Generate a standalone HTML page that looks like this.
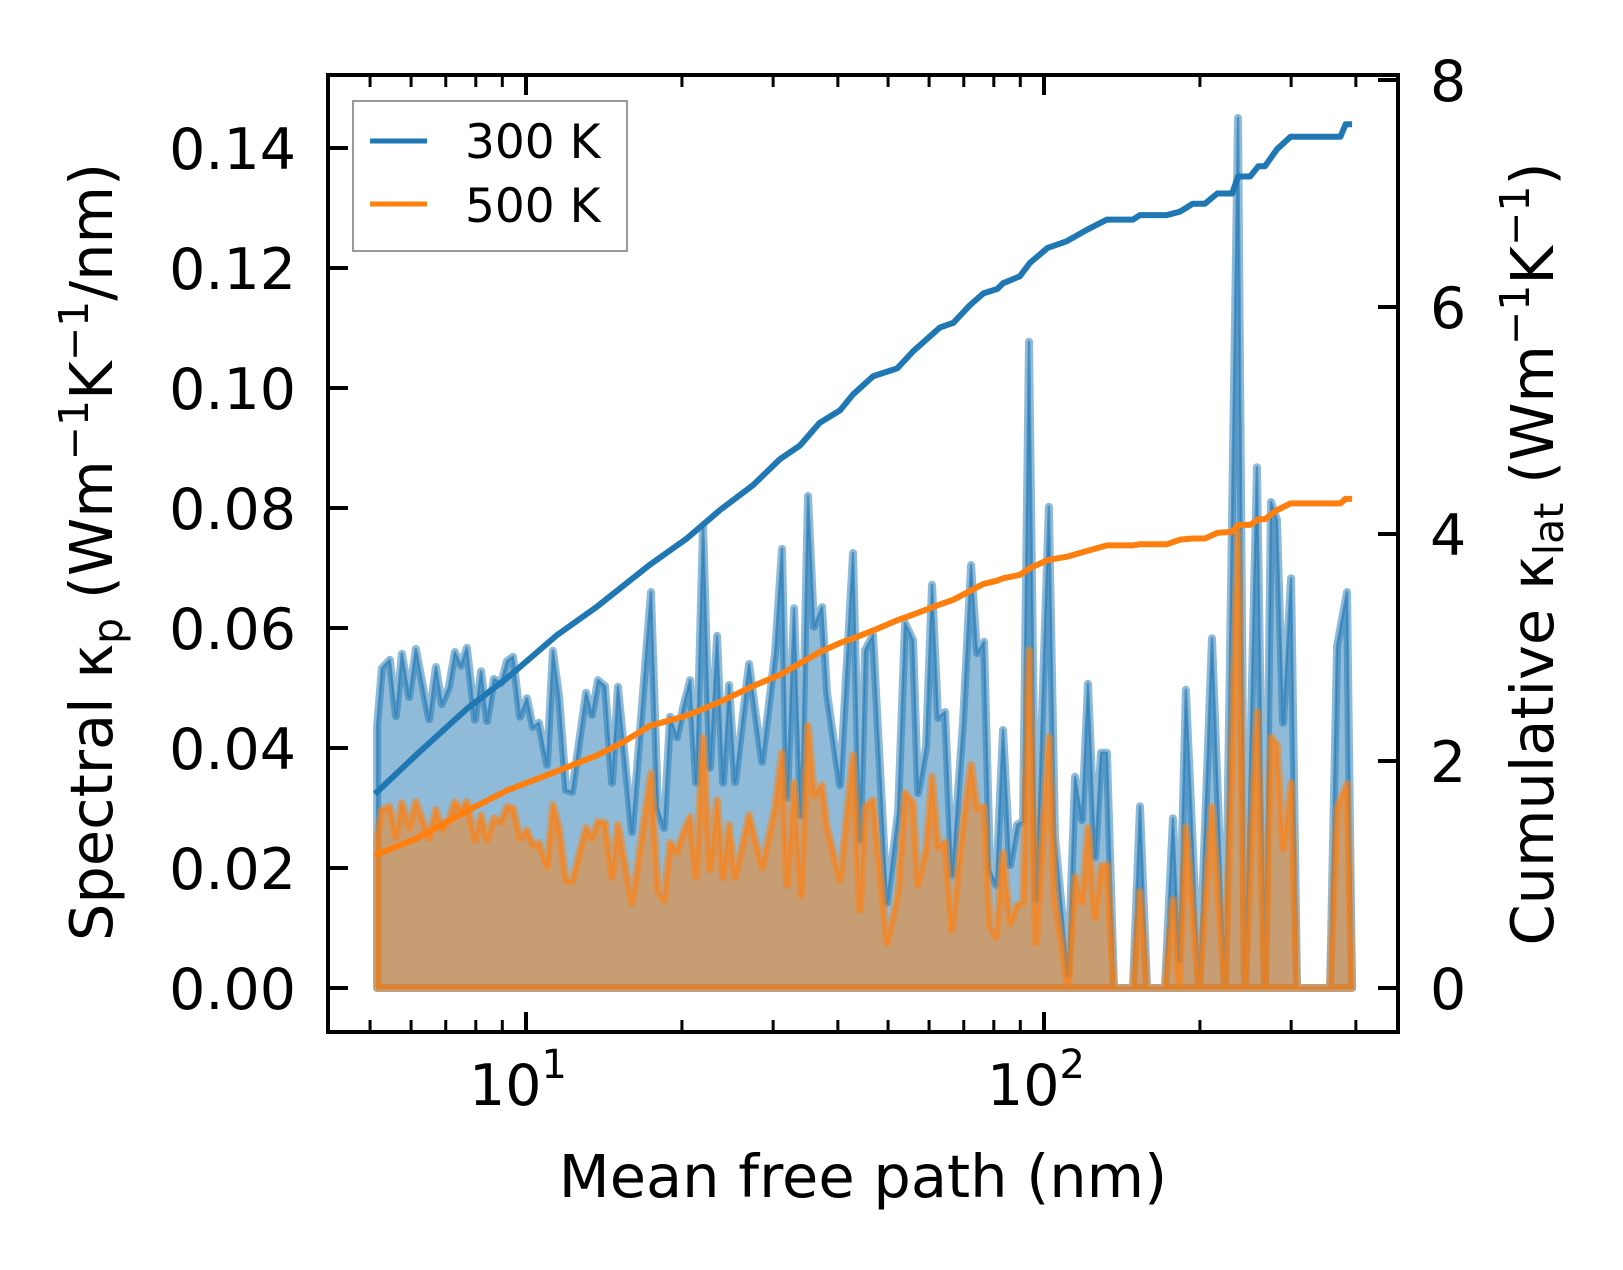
<!DOCTYPE html>
<html><head><meta charset="utf-8"><style>
html,body{margin:0;padding:0;background:#fff;}
svg{display:block;font-family:"DejaVu Sans","Liberation Sans",sans-serif;}
</style></head><body>
<svg id="chart" width="1623" height="1270" viewBox="0 0 1623 1270" xmlns="http://www.w3.org/2000/svg">
<defs><clipPath id="clip"><rect x="328" y="75" width="1070" height="957"/></clipPath></defs>
<rect x="0" y="0" width="1623" height="1270" fill="#fff"/>
<g id="plot" clip-path="url(#clip)"></g>
<g id="axes"></g>
<g id="legend">
  <rect x="353" y="101" width="274" height="150" fill="#fff" fill-opacity="0.8" stroke="#999" stroke-width="2"/>
  <line x1="370" y1="141" x2="427" y2="141" stroke="#1f77b4" stroke-width="5"/>
  <text x="465" y="158" font-size="47">300 K</text>
  <line x1="370" y1="204" x2="427" y2="204" stroke="#ff7f0e" stroke-width="5"/>
  <text x="465" y="222" font-size="47">500 K</text>
</g>
<text x="863" y="1197" font-size="59" text-anchor="middle">Mean free path (nm)</text>
<text transform="translate(112,552) rotate(-90)" font-size="59" text-anchor="middle">Spectral κ<tspan font-size="41" dy="10">p</tspan><tspan dy="-10"> (Wm</tspan><tspan font-size="41" dy="-24">−1</tspan><tspan dy="24">K</tspan><tspan font-size="41" dy="-24">−1</tspan><tspan dy="24">/nm)</tspan></text>
<text transform="translate(1553,554) rotate(-90)" font-size="59" text-anchor="middle">Cumulative κ<tspan font-size="41" dy="10">lat</tspan><tspan dy="-10"> (Wm</tspan><tspan font-size="41" dy="-24">−1</tspan><tspan dy="24">K</tspan><tspan font-size="41" dy="-24">−1</tspan><tspan dy="24">)</tspan></text>
</svg>
<script>
const mfp = [5.16,5.27,5.46,5.61,5.76,5.95,6.13,6.50,6.70,6.88,7.10,7.29,7.49,7.69,7.97,8.19,8.41,8.67,8.95,9.19,9.44,9.74,10.04,10.31,10.59,10.98,11.27,11.58,11.95,12.27,13.06,13.41,13.77,14.21,14.66,15.05,16.02,17.43,17.98,18.47,18.97,19.56,20.10,20.74,21.30,21.97,22.66,23.38,24.01,24.66,25.33,26.95,28.56,30.25,31.21,31.91,32.92,33.96,35.03,35.97,37.28,38.12,40.39,42.79,44.14,45.13,46.77,49.77,52.27,53.92,55.87,57.13,59.19,60.79,62.44,64.42,66.45,69.78,72.31,74.26,76.61,78.68,80.80,83.35,86.00,88.72,91.10,93.55,96.5,102.2,105.0,111.3,114.8,118.4,121.6,125.5,128.8,132.3,136.5,148.5,153.2,158.1,171.2,177.4,182.3,187.9,199.2,211.0,223.6,236.9,244.3,257.7,267.0,274.3,281.7,289.4,299.9,308.0,356.6,367.9,384.6,393.3];
const spec300 = [0.0438,0.0533,0.0547,0.0453,0.0557,0.0485,0.0565,0.0448,0.0535,0.0473,0.0502,0.0560,0.0537,0.0567,0.0447,0.0528,0.0445,0.0515,0.0508,0.0545,0.0552,0.0452,0.0483,0.0435,0.0442,0.0372,0.0562,0.0487,0.0330,0.0327,0.0492,0.0455,0.0513,0.0503,0.0342,0.0502,0.0260,0.0660,0.0300,0.0267,0.0452,0.0418,0.0467,0.0513,0.0342,0.0770,0.0367,0.0587,0.0342,0.0505,0.0343,0.0540,0.0377,0.0558,0.0732,0.0317,0.0633,0.0287,0.0820,0.0602,0.0635,0.0492,0.0338,0.0725,0.0247,0.0563,0.0588,0.0142,0.0293,0.0608,0.0580,0.0325,0.0402,0.0672,0.0450,0.0460,0.0188,0.0443,0.0705,0.0558,0.0577,0.0197,0.0172,0.0430,0.0205,0.0272,0.0278,0.1077,0.0147,0.0802,0.0252,0.0022,0.0352,0.0280,0.0507,0.0218,0.0392,0.0392,0,0,0.0303,0,0,0.0283,0.0047,0.0497,0,0.0583,0,0.1450,0,0.0868,0,0.0810,0.0780,0.0442,0.0683,0,0,0.0570,0.0660,0];
const spec500 = [0.0250,0.0297,0.0302,0.0252,0.0308,0.0268,0.0310,0.0250,0.0297,0.0265,0.0280,0.0310,0.0297,0.0310,0.0247,0.0288,0.0247,0.0283,0.0277,0.0302,0.0300,0.0250,0.0263,0.0238,0.0242,0.0203,0.0305,0.0267,0.0180,0.0177,0.0267,0.0250,0.0277,0.0275,0.0185,0.0272,0.0142,0.0358,0.0163,0.0147,0.0242,0.0227,0.0258,0.0285,0.0185,0.0417,0.0197,0.0313,0.0185,0.0272,0.0185,0.0288,0.0202,0.0300,0.0392,0.0172,0.0342,0.0155,0.0438,0.0322,0.0338,0.0268,0.0180,0.0388,0.0130,0.0302,0.0313,0.0075,0.0158,0.0325,0.0308,0.0172,0.0233,0.0352,0.0235,0.0243,0.0097,0.0275,0.0372,0.0300,0.0302,0.0105,0.0085,0.0225,0.0108,0.0138,0.0143,0.0563,0.0075,0.0418,0.0147,0,0.0185,0.0143,0.0267,0.0117,0.0203,0.0205,0,0,0.0160,0,0,0.0147,0,0.0268,0,0.0302,0,0.0760,0,0.0460,0,0.0418,0.0405,0.0233,0.0342,0,0,0.0300,0.0340,0];
const cumMfp = [5.11,6.16,7.69,9.19,11.48,13.71,15.18,17.35,20.43,23.67,27.43,30.93,33.8,36.9,40.4,42.8,46.8,52.1,55.9,63.0,66.8,72.1,76.4,81.3,83.4,89.8,94.0,101.6,110.7,121.0,132.3,148.5,153.2,172.7,183.0,193.8,204.5,216.0,230.8,236.9,250.0,259.3,267.0,281.7,299.2,342.8,373.5,382.2,393.3];
const cum300 = [1.71,2.06,2.46,2.73,3.11,3.36,3.52,3.73,3.96,4.21,4.43,4.66,4.78,4.98,5.09,5.23,5.39,5.46,5.61,5.82,5.86,6.02,6.12,6.16,6.21,6.27,6.39,6.52,6.58,6.68,6.77,6.77,6.81,6.81,6.84,6.91,6.91,7.00,7.00,7.15,7.15,7.24,7.24,7.39,7.50,7.50,7.50,7.61,7.61];
const cum500 = [1.17,1.32,1.56,1.74,1.91,2.05,2.15,2.31,2.40,2.52,2.66,2.76,2.86,2.96,3.04,3.08,3.15,3.24,3.29,3.38,3.42,3.50,3.56,3.59,3.61,3.64,3.70,3.77,3.80,3.85,3.90,3.90,3.91,3.91,3.95,3.96,3.96,4.01,4.02,4.08,4.08,4.13,4.13,4.21,4.27,4.27,4.27,4.31,4.31];
const leftTicks = [0,0.02,0.04,0.06,0.08,0.10,0.12,0.14];
const leftTickLabels = ["0.00","0.02","0.04","0.06","0.08","0.10","0.12","0.14"];
const rightTicks = [0,2,4,6,8];
const xMajor = [10,100];
const xMinor = [5,6,7,8,9,20,30,40,50,60,70,80,90,200,300,400];

const NS = "http://www.w3.org/2000/svg";
const L = 328, R = 1398, T = 75, B = 1032;
function sx(v){ return 526 + (Math.log10(v) - 1) * 518; }
function syL(v){ return 988 - v * 6000; }
function syR(v){ return 988 - v * 113.5; }
function mk(tag, attrs, parent){ const e = document.createElementNS(NS, tag); for (const k in attrs) e.setAttribute(k, attrs[k]); parent.appendChild(e); return e; }
const plot = document.getElementById('plot');
const axes = document.getElementById('axes');

function areaPath(xs, ys){
  let d = 'M' + sx(xs[0]) + ',' + syL(0);
  for (let i = 0; i < xs.length; i++) d += ' L' + sx(xs[i]) + ',' + syL(ys[i]);
  d += ' L' + sx(xs[xs.length-1]) + ',' + syL(0) + ' Z';
  return d;
}
function linePath(xs, ys){
  return xs.map((x,i) => (i ? 'L' : 'M') + sx(x) + ',' + syR(ys[i])).join(' ');
}
const a300 = mk('path', {d: areaPath(mfp, spec300), fill:'#1f77b4', 'fill-opacity':0.5, stroke:'#1f77b4', 'stroke-opacity':0.5, 'stroke-width':8, 'stroke-linejoin':'round'}, plot);


const e300 = mk('path', {d: areaPath(mfp, spec300), fill:'none', stroke:'#1f77b4', 'stroke-opacity':0.6, 'stroke-width':2.5, 'stroke-linejoin':'round'}, plot);


const a500 = mk('path', {d: areaPath(mfp, spec500), fill:'#ff7f0e', 'fill-opacity':0.5, stroke:'#ff7f0e', 'stroke-opacity':0.5, 'stroke-width':8, 'stroke-linejoin':'round'}, plot);


const e500 = mk('path', {d: areaPath(mfp, spec500), fill:'none', stroke:'#ff7f0e', 'stroke-opacity':0.6, 'stroke-width':2.5, 'stroke-linejoin':'round'}, plot);


const c300 = mk('path', {d: linePath(cumMfp, cum300), fill:'none', stroke:'#1f77b4', 'stroke-width':6, 'stroke-linejoin':'round'}, plot);


const c500 = mk('path', {d: linePath(cumMfp, cum500), fill:'none', stroke:'#ff7f0e', 'stroke-width':6, 'stroke-linejoin':'round'}, plot);



leftTicks.forEach((v,i) => {
  const y = syL(v);
  const t = mk('line', {x1:L, x2:L+20, y1:y, y2:y, stroke:'#000', 'stroke-width':4}, axes);
  
  
  const lb = mk('text', {x:296, y:y+21, 'font-size':57, 'text-anchor':'end'}, axes);
  lb.textContent = leftTickLabels[i];
  
  
});
rightTicks.forEach(v => {
  const y = syR(v);
  const t = mk('line', {x1:R-20, x2:R, y1:y, y2:y, stroke:'#000', 'stroke-width':4}, axes);
  
  
  const lb = mk('text', {x:1430, y:y+21, 'font-size':57}, axes);
  lb.textContent = String(v);
  
  
});
xMajor.forEach((v,i) => {
  const x = sx(v);
  [[B, B-20],[T, T+20]].forEach(p => {
    const t = mk('line', {x1:x, x2:x, y1:p[0], y2:p[1], stroke:'#000', 'stroke-width':4}, axes);
    
    
  });
  const lb = mk('text', {x:x-8, y:1105, 'font-size':57, 'text-anchor':'middle'}, axes);
  lb.textContent = '10';
  const sup = document.createElementNS(NS, 'tspan');
  sup.setAttribute('font-size', '40'); sup.setAttribute('dy', '-27');
  sup.textContent = String(i + 1);
  lb.appendChild(sup);
  
  
});
xMinor.forEach(v => {
  const x = sx(v);
  [[B, B-12],[T, T+12]].forEach(p => {
    const t = mk('line', {x1:x, x2:x, y1:p[0], y2:p[1], stroke:'#000', 'stroke-width':3}, axes);
    
    
  });
});
const frame = mk('rect', {x:L, y:T, width:R-L, height:B-T, fill:'none', stroke:'#000', 'stroke-width':4}, axes);


</script>
</body></html>
